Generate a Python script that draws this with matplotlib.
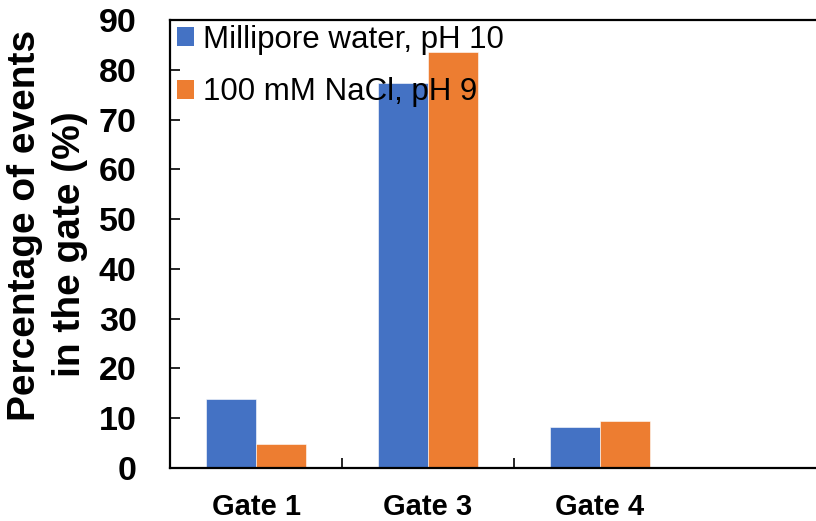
import matplotlib
matplotlib.use("Agg")
import matplotlib.pyplot as plt
from matplotlib.patches import Patch
import numpy as np

gates = ["Gate 1", "Gate 3", "Gate 4"]
series_names = ["Millipore water, pH 10", "100 mM NaCl, pH 9"]
water_ph10 = [13.8, 77.4, 8.3]
nacl_ph9 = [4.8, 83.5, 9.4]
y_ticks = [0, 10, 20, 30, 40, 50, 60, 70, 80, 90]

blue = "#4472C4"
orange = "#ED7D31"

plt.rcParams["font.family"] = ["Liberation Sans", "DejaVu Sans"]

W, H = 816, 521
fig = plt.figure(figsize=(W / 100, H / 100), dpi=100)

# axes frame: left spine at x=170 px, bottom at y=468 px, top at y=20 px;
# the frame runs past the right edge of the canvas
left, right, top, bottom = 170, 830, 20, 468
ax = fig.add_axes([left / W, (H - bottom) / H, (right - left) / W, (bottom - top) / H])

cat_px = 172.0
ax.set_xlim(-0.5, -0.5 + (right - left) / cat_px)
ax.set_ylim(0, 90)

x = np.arange(len(gates))
bw = 0.288
ax.bar(x - bw / 2, water_ph10, bw, color=blue, edgecolor="white", linewidth=0.4, zorder=2)
ax.bar(x + bw / 2, nacl_ph9, bw, color=orange, edgecolor="white", linewidth=0.4, zorder=2)

for s in ax.spines.values():
    s.set_linewidth(1.6)
    s.set_color("black")

ax.set_yticks(y_ticks)
ax.set_yticklabels([str(v) for v in y_ticks], fontsize=24.5, fontweight="bold")
ax.tick_params(axis="y", direction="in", length=7, width=1.2, pad=24)

ax.set_xticks(x)
ax.set_xticklabels(gates, fontsize=21, fontweight="bold")
ax.set_xticks([0.5, 1.5], minor=True)
ax.tick_params(axis="x", which="major", length=0, pad=18)
ax.tick_params(axis="x", which="minor", direction="in", length=7, width=1.2)
ax.tick_params(axis="y", which="minor", length=0)
ax.tick_params(right=False, top=False)

# y axis title, two lines
fig.text(25 / W, 1 - 225 / H, "Percentage of events", rotation=90, ha="center", va="center",
         fontsize=28, fontweight="bold")
fig.text(70 / W, 1 - 244 / H, "in the gate (%)", rotation=90, ha="center", va="center",
         fontsize=28, fontweight="bold")

handles = [Patch(facecolor=blue, edgecolor="none"), Patch(facecolor=orange, edgecolor="none")]
leg = ax.legend(handles, series_names, loc="upper left",
                bbox_to_anchor=(172 / W, 1 - 20 / H), bbox_transform=fig.transFigure,
                frameon=False, fontsize=22.5, handlelength=0.55, handleheight=0.55,
                handletextpad=0.3, labelspacing=0.72, borderaxespad=0, borderpad=0.15)
leg.set_zorder(5)

fig.savefig("out.png", dpi=100)
